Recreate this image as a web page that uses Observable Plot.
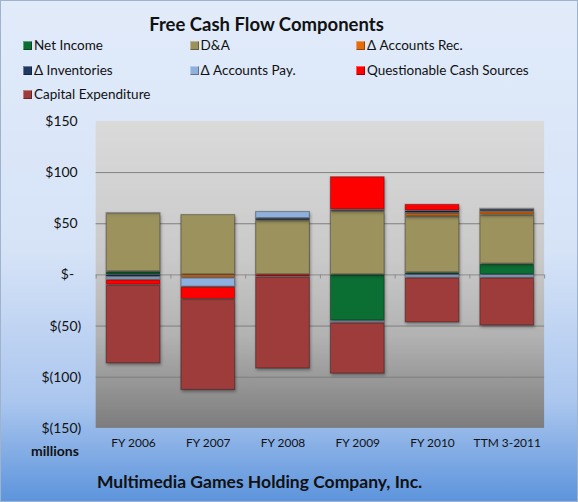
<!DOCTYPE html>
<html>
<head>
<meta charset="utf-8">
<script src="https://cdn.jsdelivr.net/npm/d3@7"></script>
<script src="https://cdn.jsdelivr.net/npm/@observablehq/plot@0.6"></script>
<style>
  html, body { margin: 0; padding: 0; }
  #chart {
    position: relative; width: 576px; height: 500px; overflow: hidden;
    border: 1px solid #9fb3cc;
    background: linear-gradient(to bottom, #e1ebfa 0%, #d6e3f7 50%, #abc6ee 80%, #5d94dc 100%);
    font-family: Lato, "Open Sans", sans-serif; color: #111;
  }
  #title { position: absolute; top: 12px; left: 0; width: 531px; text-align: center; font-weight: bold; font-size: 18.5px; }
  .leg { position: absolute; font-size: 13.5px; white-space: nowrap; line-height: 16px; }
  .sw { display: inline-block; width: 9px; height: 9px; margin-right: 2px; vertical-align: -0px; box-shadow: inset 1px 1px 0 rgba(255,255,255,0.35), inset -1px -1px 0 rgba(0,0,0,0.35); }
  #plot { position: absolute; left: 0; top: 105px; }
  #millions { position: absolute; left: 30px; top: 441px; font-weight: bold; font-size: 14px; }
  #footer { position: absolute; left: 96px; top: 470px; font-weight: bold; font-size: 17.5px; }
  #plot svg g[aria-label="bar"] rect { filter: drop-shadow(1px 2px 1.5px rgba(0,0,0,0.35)); }
</style>
</head>
<body>
<div id="chart">
  <div id="title">Free Cash Flow Components</div>
  <div id="legend"></div>
  <div id="plot"></div>
  <div id="millions">millions</div>
  <div id="footer">Multimedia Games Holding Company, Inc.</div>
</div>
<script>
// ---- data ($ millions) ----
const categories = ["FY 2006", "FY 2007", "FY 2008", "FY 2009", "FY 2010", "TTM 3-2011"];
const seriesNames = ["Net Income", "D&A", "Δ Accounts Rec.", "Δ Inventories", "Δ Accounts Pay.", "Questionable Cash Sources", "Capital Expenditure"];
const netIncome    = [3, 0, 0, -45, 2, 10.5];
const dAndA        = [57, 59, 53, 62, 55, 48];
const accountsRec  = [1, -3, 0, 0, 3.3, 3.3];
const inventories  = [-2, 0, 2, 1.5, 2.2, 2.3];
const accountsPay  = [-3, -9, 7, -2, -3, -3];
const questionable = [-5, -12, -2, 32.5, 6.5, 1];
const capex        = [-77, -89, -90, -50, -44, -47];
const yTicks = [-150, -100, -50, 0, 50, 100, 150];
const seriesColors = ["#0b6e33", "#9b925e", "#e46c0a", "#1f3864", "#8fb0dc", "#ff0000", "#9e3b3b"];

const seriesValues = [netIncome, dAndA, accountsRec, inventories, accountsPay, questionable, capex];
const rows = [];
categories.forEach((c, i) => {
  seriesNames.forEach((s, j) => {
    const v = seriesValues[j][i];
    if (v !== 0) rows.push({category: c, series: s, value: v});
  });
});

// legend
const legend = document.getElementById("legend");
seriesNames.forEach((s, i) => {
  const col = i % 3, row = Math.floor(i / 3);
  const d = document.createElement("div");
  d.className = "leg";
  d.style.left = (22 + col * 166.5) + "px";
  d.style.top = (36 + row * 24.5) + "px";
  d.innerHTML = `<span class="sw" style="background:${seriesColors[i]}"></span>`;
  d.appendChild(document.createTextNode(s));
  legend.appendChild(d);
});

const fmt = v => v === 0 ? "$-\u00a0\u00a0" : v < 0 ? `$(${-v})` : `$${v}\u00a0`;

const bgMark = (index, scales, values, dim) => {
  const g = d3.create("svg:g");
  const defs = g.append("defs");
  const lg = defs.append("linearGradient").attr("id", "plotbg").attr("x1", 0).attr("y1", 0).attr("x2", 0).attr("y2", 1);
  [[0, "#dadada"], [0.45, "#c9c9c9"], [0.7, "#b2b2b2"], [1, "#7c7c7c"]].forEach(([o, c]) =>
    lg.append("stop").attr("offset", o).attr("stop-color", c));
  g.append("rect")
    .attr("x", dim.marginLeft).attr("y", dim.marginTop)
    .attr("width", dim.width - dim.marginLeft - dim.marginRight)
    .attr("height", dim.height - dim.marginTop - dim.marginBottom)
    .attr("fill", "url(#plotbg)");
  return g.node();
};

const chart = Plot.plot({
  width: 578,
  height: 360,
  marginTop: 15,
  marginBottom: 37,
  marginLeft: 95,
  marginRight: 33,
  style: {background: "transparent", fontFamily: "Lato, 'Open Sans', sans-serif", color: "#111"},
  x: {domain: categories, paddingInner: 0.27, paddingOuter: 0.135, label: null},
  y: {domain: [-150, 150], label: null},
  color: {domain: seriesNames, range: seriesColors},
  marks: [
    bgMark,
    Plot.gridY(yTicks.filter(v => Math.abs(v) < 150 && v !== 0), {stroke: "#808080", strokeOpacity: 1}),
    Plot.ruleY([0], {stroke: "#8c8c8c"}),
    Plot.ruleX(categories, {x: d => d, y1: 0, y2: -4, dx: -37.5, stroke: "#8c8c8c"}),
    Plot.ruleX(categories.slice(-1), {x: d => d, y1: 0, y2: -4, dx: 37.5, stroke: "#8c8c8c"}),
    Plot.barY(rows, {x: "category", y: "value", fill: "series", stroke: "#000", strokeOpacity: 0.3, strokeWidth: 1.2, inset: 0.5}),
    Plot.axisY({ticks: yTicks, tickFormat: fmt, tickSize: 0, tickPadding: 15, fontSize: 14, textAnchor: "end"}),
    Plot.axisX({tickSize: 0, tickPadding: 10, fontSize: 12})
  ]
});
document.getElementById("plot").appendChild(chart);
</script>
</body>
</html>
